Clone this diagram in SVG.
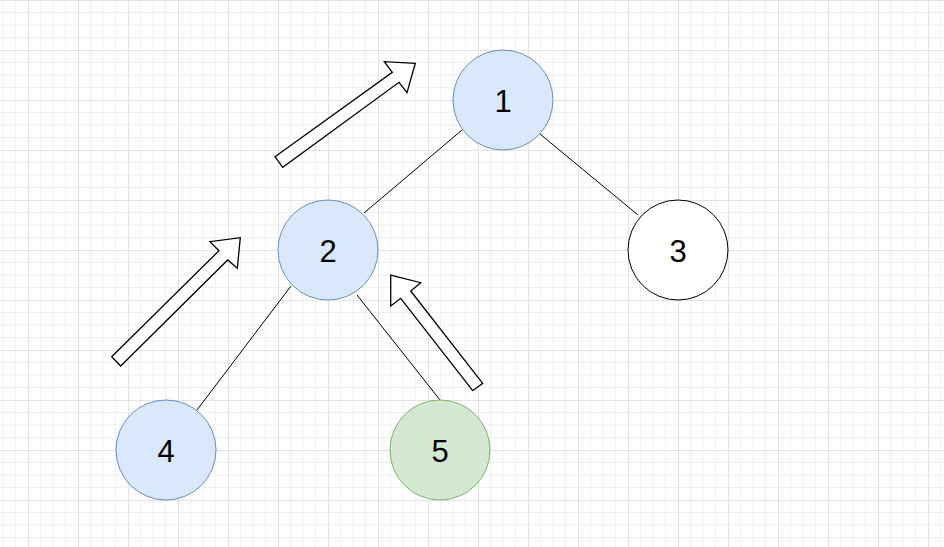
<svg xmlns="http://www.w3.org/2000/svg" width="944" height="547" viewBox="0 0 944 547">
  <defs>
    <pattern id="grid" patternUnits="userSpaceOnUse" x="28" y="0" width="50" height="50">
      <path d="M12.5 0V50M25 0V50M37.5 0V50M0 12.5H50M0 25H50M0 37.5H50" stroke="#f1f1f1" stroke-width="1" fill="none"/>
      <path d="M0.5 0V50M0 0.5H50" stroke="#e3e3e3" stroke-width="1" fill="none"/>
    </pattern>
  </defs>
  <style>
    .blue { fill: #dae8fc; stroke: #6c8ebf; stroke-width: 1; }
    .green { fill: #d5e8d4; stroke: #82b366; stroke-width: 1; }
    .white { fill: #ffffff; stroke: #000000; stroke-width: 1; }
    .lbl { font-family: "Liberation Sans", Arial, sans-serif; font-size: 31px; fill: #000000; text-anchor: middle; }
    .edge { stroke: #000000; stroke-width: 1; fill: none; }
    .block { fill: #ffffff; stroke: #000000; stroke-width: 1.3; stroke-linejoin: miter; }
  </style>
  <rect x="0" y="0" width="944" height="547" fill="#ffffff"/>
  <rect x="0" y="0" width="944" height="547" fill="url(#grid)"/>

  <g id="connectors">
    <line class="edge" x1="462" y1="130" x2="364" y2="213"/>
    <line class="edge" x1="540" y1="134" x2="638" y2="215"/>
    <line class="edge" x1="291" y1="286" x2="197" y2="410"/>
    <line class="edge" x1="357" y1="295" x2="440" y2="400"/>
  </g>

  <g id="arrows">
    <polygon id="arrow-top" class="block" points="275,156.7 392.3,72.3 384.3,61.7 415.3,63.3 407,92.7 399,82.3 282.7,167.3"/>
    <polygon id="arrow-left" class="block" points="111.7,356.7 219,250.7 210,241.7 240.3,237.7 237.3,268.3 227.7,260 120.7,366"/>
    <polygon id="arrow-right" class="block" points="482.7,383.3 410.7,291 420.7,282.7 390.7,275 390.7,306 400.7,298.3 472.7,390.7"/>
  </g>

  <g id="node1">
    <circle class="blue" cx="503" cy="100" r="50"/>
    <text class="lbl" x="503" y="111.5">1</text>
  </g>
  <g id="node2">
    <circle class="blue" cx="328" cy="250" r="50"/>
    <text class="lbl" x="328" y="261.5">2</text>
  </g>
  <g id="node3">
    <circle class="white" cx="678" cy="250" r="50"/>
    <text class="lbl" x="678" y="261.5">3</text>
  </g>
  <g id="node4">
    <circle class="blue" cx="166" cy="450" r="50"/>
    <text class="lbl" x="166" y="461.5">4</text>
  </g>
  <g id="node5">
    <circle class="green" cx="440" cy="450" r="50"/>
    <text class="lbl" x="440" y="461.5">5</text>
  </g>
</svg>
